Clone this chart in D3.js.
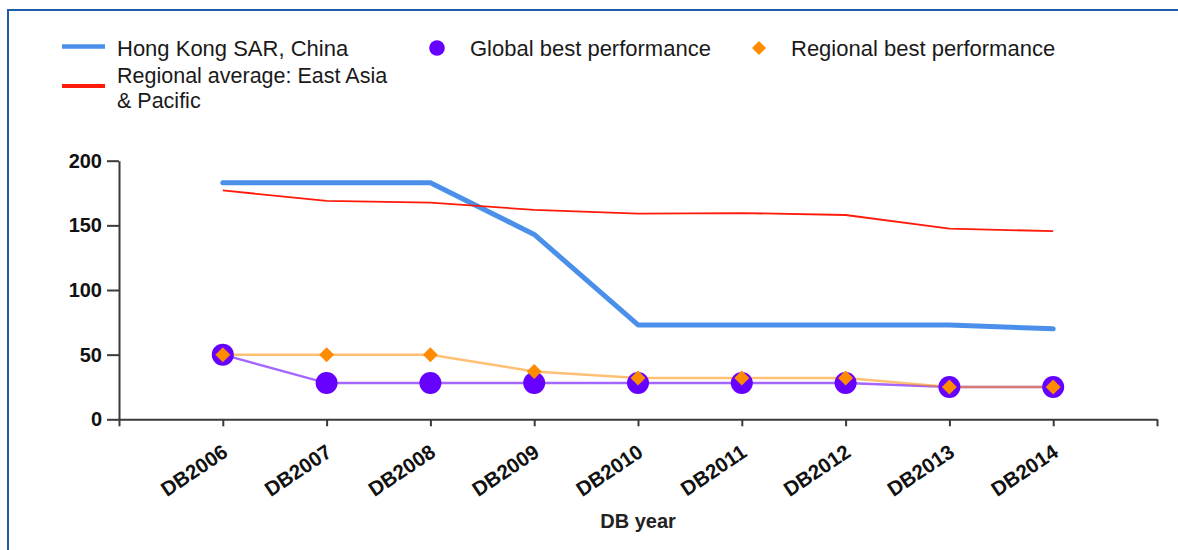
<!DOCTYPE html>
<html>
<head>
<meta charset="utf-8">
<script src="https://cdn.jsdelivr.net/npm/d3@7/dist/d3.min.js"></script>
<style>
  html, body { margin: 0; padding: 0; background: #fff; }
  svg { display: block; }
</style>
</head>
<body>
<svg id="chart" width="1178" height="550"></svg>
<script>
// ---- data ----
const categories = ["DB2006","DB2007","DB2008","DB2009","DB2010","DB2011","DB2012","DB2013","DB2014"];
const hongKong = [183, 183, 183, 143, 73, 73, 73, 73, 70];
const regionalAverage = [177, 169, 167.5, 162, 159, 159.5, 158, 147.5, 145.5];
const globalBest = [50, 28, 28, 28, 28, 28, 28, 25, 25];
const regionalBest = [50, 50, 50, 37, 32, 32, 32, 25, 25];
const yTicks = [0, 50, 100, 150, 200];
const legendLabels = ["Hong Kong SAR, China", "Global best performance", "Regional best performance", ["Regional average: East Asia", "& Pacific"]];
const xTitle = "DB year";

// ---- layout ----
const svg = d3.select("#chart");
const x = d3.scaleLinear().domain([0, categories.length + 1]).range([119, 1157]);
const y = d3.scaleLinear().domain([0, 200]).range([419.3, 160.7]);

// frame border
svg.append("path")
  .attr("d", "M8,551 L8,10 L1180,10")
  .attr("fill", "none").attr("stroke", "#1d5ca6").attr("stroke-width", 2);

// axes
const axisColor = "#3a3a3a";
const yAxis = svg.append("g").attr("transform", "translate(119,0)")
  .call(d3.axisLeft(y).tickValues(yTicks).tickSize(12).tickSizeOuter(0).tickPadding(5));
yAxis.select(".domain").attr("stroke", axisColor).attr("stroke-width", 2);
yAxis.selectAll(".tick line").attr("stroke", axisColor).attr("stroke-width", 2);
yAxis.selectAll(".tick text")
  .attr("font-family", "Liberation Sans, Arial, sans-serif")
  .attr("font-weight", "bold").attr("font-size", 20).attr("fill", "#111");

const xAxis = svg.append("g").attr("transform", "translate(0,419.3)")
  .call(d3.axisBottom(x).tickValues(d3.range(0, categories.length + 2)).tickSize(7).tickSizeOuter(0)
    .tickFormat(d => (d >= 1 && d <= categories.length) ? categories[d - 1] : ""));
xAxis.select(".domain").attr("stroke", axisColor).attr("stroke-width", 2);
xAxis.selectAll(".tick line").attr("stroke", axisColor).attr("stroke-width", 2);
xAxis.selectAll(".tick text")
  .attr("font-family", "Liberation Sans, Arial, sans-serif")
  .attr("font-weight", "bold").attr("font-size", 20.5).attr("fill", "#111")
  .attr("text-anchor", "end")
  .attr("y", 0).attr("dy", 0)
  .attr("transform", "translate(6,36) rotate(-34)");

svg.append("text")
  .attr("x", 638).attr("y", 528)
  .attr("text-anchor", "middle")
  .attr("font-family", "Liberation Sans, Arial, sans-serif")
  .attr("font-weight", "bold").attr("font-size", 20).attr("fill", "#222")
  .text(xTitle);

// lines
const idx = d3.range(categories.length);
const line = arr => d3.line().x(i => x(i + 1)).y(i => y(arr[i]))(idx);

svg.append("path").attr("d", line(hongKong))
  .attr("fill", "none").attr("stroke", "#4a90ea").attr("stroke-width", 5)
  .attr("stroke-linecap", "round").attr("stroke-linejoin", "round");
svg.append("path").attr("d", line(regionalAverage))
  .attr("fill", "none").attr("stroke", "#ff1a0a").attr("stroke-width", 1.8)
  .attr("stroke-linejoin", "round");
svg.append("path").attr("d", line(globalBest))
  .attr("fill", "none").attr("stroke", "#6600ff").attr("stroke-opacity", 0.6).attr("stroke-width", 2.5);
svg.append("path").attr("d", line(regionalBest))
  .attr("fill", "none").attr("stroke", "#ff8c00").attr("stroke-opacity", 0.55).attr("stroke-width", 2.5);

// markers
svg.append("g").selectAll("circle").data(idx).join("circle")
  .attr("cx", i => x(i + 1)).attr("cy", i => y(globalBest[i]))
  .attr("r", 11).attr("fill", "#6600ff");
const diamond = s => `M0,${-s} L${s},0 L0,${s} L${-s},0 Z`;
svg.append("g").selectAll("path").data(idx).join("path")
  .attr("transform", i => `translate(${x(i + 1)},${y(regionalBest[i])})`)
  .attr("d", diamond(7.5)).attr("fill", "#ff8c00");

// legend
const lg = svg.append("g")
  .attr("font-family", "Liberation Sans, Arial, sans-serif")
  .attr("font-size", 22).attr("fill", "#1a1a1a");
lg.append("line").attr("x1", 62).attr("x2", 105).attr("y1", 46.5).attr("y2", 46.5)
  .attr("stroke", "#4a90ea").attr("stroke-width", 4.5);
lg.append("text").attr("x", 117).attr("y", 55.5).text(legendLabels[0]);

lg.append("circle").attr("cx", 437).attr("cy", 48).attr("r", 7.8).attr("fill", "#6600ff");
lg.append("text").attr("x", 470).attr("y", 55.5).text(legendLabels[1]);

lg.append("path").attr("transform", "translate(759,48)").attr("d", diamond(7)).attr("fill", "#ff8c00");
lg.append("text").attr("x", 791).attr("y", 55.5).text(legendLabels[2]);

lg.append("line").attr("x1", 62).attr("x2", 105).attr("y1", 86).attr("y2", 86)
  .attr("stroke", "#ff1a0a").attr("stroke-width", 4);
lg.append("text").attr("x", 117).attr("y", 83).attr("font-size", 21.5).text(legendLabels[3][0]);
lg.append("text").attr("x", 117).attr("y", 107.5).attr("font-size", 21.5).text(legendLabels[3][1]);
</script>
</body>
</html>
